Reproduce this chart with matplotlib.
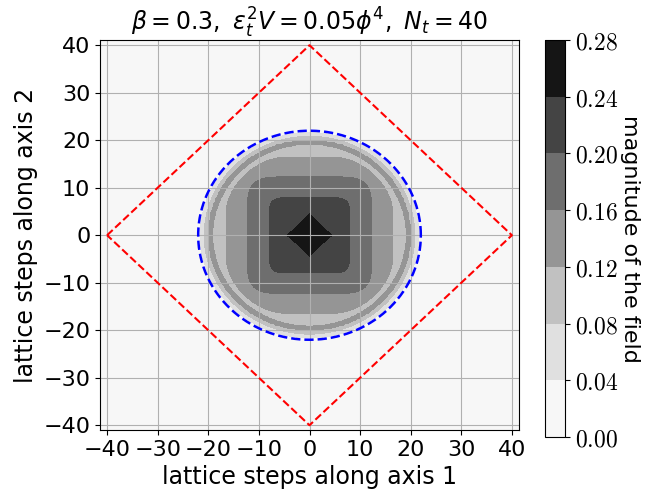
import numpy as np
import matplotlib
matplotlib.use("Agg")
import matplotlib.pyplot as plt

# field magnitude vs lattice distance along an axis
prof_r = [0.0, 2.0, 4.5, 7.9, 12.3, 16.4, 18.0, 19.2, 19.6, 20.1, 20.8, 21.6, 22.3, 23.0]
prof_v = [0.275, 0.260, 0.240, 0.200, 0.160, 0.120, 0.112, 0.120, 0.126, 0.120, 0.080, 0.040, 0.0, 0.0]
# shape exponent of the iso-lines (1 = diamond, 2 = circle, large = square) vs radius
shape_r = [0.0, 4.8, 6.5, 7.5, 11.0, 13.0, 15.5, 17.0, 18.0, 19.0, 23.0]
shape_p = [0.95, 0.95, 5.0, 8.0, 8.0, 7.0, 6.0, 4.0, 2.6, 2.0, 2.0]

levels = [0.0, 0.04, 0.08, 0.12, 0.16, 0.20, 0.24, 0.28]
circle_radius = 22
diamond_x = [-40, 0, 40, 0, -40]
diamond_y = [0, 40, 0, -40, 0]
ticks = [-40, -30, -20, -10, 0, 10, 20, 30, 40]

xs = np.arange(-41.5, 41.51, 0.5)
X, Y = np.meshgrid(xs, xs)
R = np.hypot(X, Y)
P = np.interp(R, shape_r, shape_p)
Rp = (np.abs(X) ** P + np.abs(Y) ** P) ** (1.0 / P)
Z = np.interp(Rp, prof_r, prof_v)
Z = np.clip(Z, 0, 0.279)

fig = plt.figure(figsize=(6.47, 4.95), dpi=100)
W, H = 647, 495
ax = fig.add_axes([100 / W, 1 - 430 / H, 419 / W, 390 / H])
cax = fig.add_axes([545 / W, 1 - 437 / H, 20 / W, 397 / H])

cs = ax.contourf(X, Y, Z, levels=levels, cmap="Greys")
ax.grid(True, color="#b0b0b0", linewidth=0.8)
t = np.linspace(0, 2 * np.pi, 400)
ax.plot(circle_radius * np.cos(t), circle_radius * np.sin(t), "b--", linewidth=1.8)
ax.plot(diamond_x, diamond_y, "r--", linewidth=1.5)
ax.set_xlim(-41.4, 41.4)
ax.set_ylim(-41.0, 41.1)
ax.set_xticks(ticks)
ax.set_yticks(ticks)
ax.tick_params(labelsize=16)
ax.set_xlabel("lattice steps along axis 1", fontsize=17)
ax.set_ylabel("lattice steps along axis 2", fontsize=17)
ax.set_title(r"$\beta = 0.3,\ \varepsilon_t^2 V = 0.05\phi^4,\ N_t = 40$", fontsize=17)

cb = fig.colorbar(cs, cax=cax)
cb.set_ticks(levels)
cb.set_ticklabels([f"${v:.2f}$" for v in levels])
for lab in cax.get_yticklabels():
    lab.set_math_fontfamily("cm")
    lab.set_fontsize(17)
cb.set_label("magnitude of the field", rotation=270, fontsize=16, labelpad=16)

fig.savefig("out.png", dpi=100)
